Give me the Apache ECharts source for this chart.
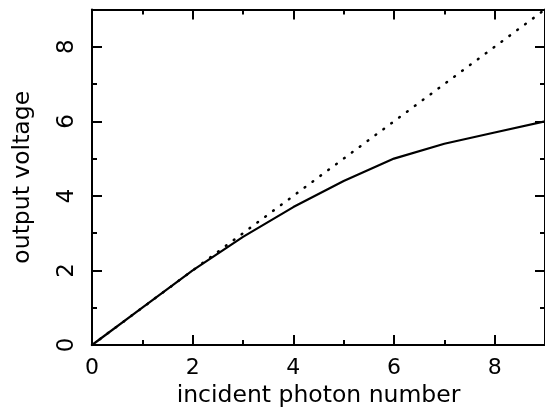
<!DOCTYPE html>
<html>
<head>
<meta charset="utf-8">
<script src="https://cdn.jsdelivr.net/npm/echarts@6/dist/echarts.min.js"></script>
<style>
  html, body { margin: 0; padding: 0; background: #fff; }
  #chart { width: 545px; height: 413px; }
</style>
</head>
<body>
<div id="chart"></div>
<script>
// Incident photon number vs output voltage: measured response and ideal linear response
const photonNumber = [0, 1, 2, 3, 4, 5, 6, 7, 8, 9];
const outputVoltage = [0, 1.0, 2.0, 2.9, 3.7, 4.4, 5.0, 5.4, 5.7, 6.0];
const idealVoltage = [0, 1, 2, 3, 4, 5, 6, 7, 8, 9];
const majorTicks = [0, 2, 4, 6, 8];

const FONT = 'DejaVu Sans';
const axisLine = { show: true, onZero: false, lineStyle: { color: '#000', width: 2 } };

function axisBase(extra) {
  return Object.assign({
    type: 'value', min: 0, max: 9, interval: 2,
    axisLine: axisLine,
    axisTick: { show: true, inside: true, length: 10, lineStyle: { color: '#000', width: 2 } },
    minorTick: { show: true, splitNumber: 2, length: 5, lineStyle: { color: '#000', width: 2 } },
    splitLine: { show: false },
    minorSplitLine: { show: false }
  }, extra);
}

const labelFmt = v => (majorTicks.indexOf(v) >= 0 ? String(v) : '');

const chart = echarts.init(document.getElementById('chart'), null, { renderer: 'canvas' });
chart.setOption({
  animation: false,
  backgroundColor: '#fff',
  grid: { left: 92, top: 9.5, right: -3.75, bottom: 66, containLabel: false },
  xAxis: [
    axisBase({
      position: 'bottom',
      name: 'incident photon number', nameLocation: 'middle', nameGap: 39,
      nameTextStyle: { color: '#000', fontFamily: FONT, fontSize: 23.5 },
      axisLabel: { show: true, color: '#000', fontFamily: FONT, fontSize: 22, margin: 12, formatter: labelFmt, showMaxLabel: false }
    }),
    axisBase({ position: 'top', axisLabel: { show: false } })
  ],
  yAxis: [
    axisBase({
      position: 'left',
      name: 'output voltage', nameLocation: 'middle', nameGap: 57,
      nameTextStyle: { color: '#000', fontFamily: FONT, fontSize: 23.5 },
      axisLabel: { show: true, color: '#000', fontFamily: FONT, fontSize: 23, margin: 13, rotate: 90, formatter: labelFmt, showMaxLabel: false }
    }),
    axisBase({ position: 'right', axisLabel: { show: false } })
  ],
  series: [
    {
      type: 'line', xAxisIndex: 0, yAxisIndex: 0,
      data: photonNumber.map((x, i) => [x, idealVoltage[i]]),
      symbol: 'none', silent: true,
      lineStyle: { color: '#000', width: 2.5, type: [0.8, 9], cap: 'round' }
    },
    {
      type: 'line', xAxisIndex: 0, yAxisIndex: 0,
      data: photonNumber.map((x, i) => [x, outputVoltage[i]]),
      symbol: 'none', silent: true,
      lineStyle: { color: '#000', width: 2.2 }
    }
  ]
});
</script>
</body>
</html>
